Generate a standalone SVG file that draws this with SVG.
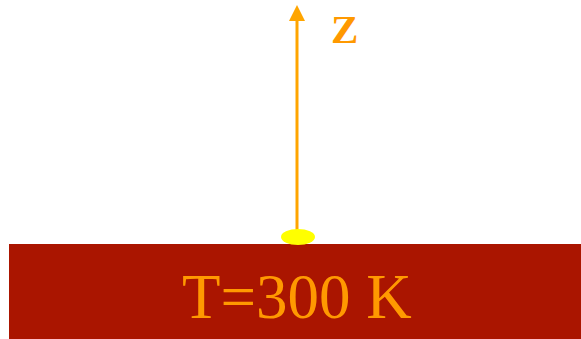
<svg xmlns="http://www.w3.org/2000/svg" width="581" height="339" viewBox="0 0 581 339">
<style>
.lbl{font-family:"Liberation Serif","Times New Roman",serif;fill:#FF9900}
</style>
<g id="slab">
<rect x="9" y="244" width="572" height="95" fill="#AA1500"/>
<text class="lbl" x="297" y="318" font-size="63" text-anchor="middle">T=300 K</text>
</g>
<g id="connectors">
<line x1="297" y1="236" x2="297" y2="20" stroke="#FFA500" stroke-width="3"/>
<path d="M297,5 L289,21 L305,21 Z" fill="#FFA500"/>
</g>
<g id="source">
<ellipse cx="298" cy="237" rx="17" ry="8" fill="#FFFF00"/>
</g>
<g id="axis-label">
<text class="lbl" x="331" y="43" font-size="41" font-weight="bold">Z</text>
</g>
</svg>
